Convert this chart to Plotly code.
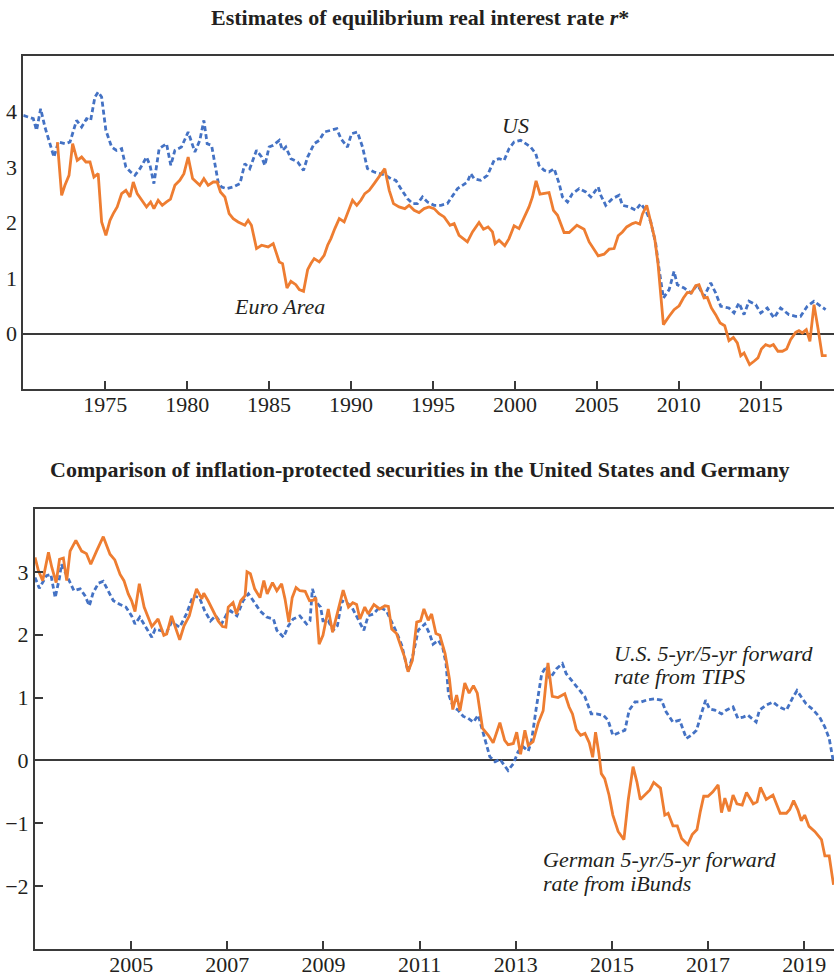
import plotly.graph_objects as go

# ---------------- Top chart: estimates of r* ----------------
us_rstar_year = [1970.0, 1970.61, 1970.81, 1971.06, 1971.32, 1971.63, 1971.87, 1972.14, 1972.54, 1972.85,
                 1973.25, 1973.56, 1973.86, 1974.11, 1974.37, 1974.57, 1974.78, 1975.04, 1975.39, 1975.69,
                 1976.0, 1976.26, 1976.55, 1976.81, 1977.12, 1977.52, 1977.73, 1977.97, 1978.13, 1978.29,
                 1978.74, 1979.0, 1979.25, 1979.65, 1980.06, 1980.27, 1980.47, 1980.77, 1981.02, 1981.22,
                 1981.49, 1981.69, 1981.89, 1982.10, 1982.40, 1982.81, 1983.22, 1983.52, 1983.82, 1984.23,
                 1984.54, 1984.74, 1985.0, 1985.25, 1985.62, 1985.82, 1986.02, 1986.33, 1986.74, 1987.10,
                 1987.35, 1987.75, 1988.06, 1988.36, 1988.77, 1989.13, 1989.38, 1989.78, 1990.03, 1990.39,
                 1990.70, 1991.0, 1991.41, 1991.82, 1992.12, 1992.43, 1992.73, 1993.04, 1993.44, 1993.75,
                 1994.05, 1994.36, 1994.66, 1995.07, 1995.48, 1995.88, 1996.19, 1996.49, 1996.80, 1997.10,
                 1997.30, 1997.51, 1997.91, 1998.32, 1998.73, 1999.03, 1999.34, 1999.64, 1999.95, 2000.35,
                 2000.66, 2000.96, 2001.27, 2001.47, 2001.78, 2002.08, 2002.39, 2002.70, 2002.90, 2003.21,
                 2003.51, 2003.92, 2004.32, 2004.63, 2005.08, 2005.24, 2005.54, 2005.95, 2006.36, 2006.56,
                 2006.97, 2007.37, 2007.68, 2007.98, 2008.29, 2008.59, 2008.80, 2009.06, 2009.41, 2009.71,
                 2009.91, 2010.32, 2010.73, 2011.13, 2011.54, 2011.95, 2012.25, 2012.56, 2013.06, 2013.37,
                 2013.67, 2013.98, 2014.28, 2014.69, 2015.0, 2015.40, 2015.81, 2016.21, 2016.72, 2017.13,
                 2017.43, 2017.84, 2018.25, 2018.55, 2018.96]
us_rstar = [3.93, 3.87, 3.66, 4.05, 3.72, 3.42, 3.18, 3.45, 3.42, 3.45,
            3.84, 3.72, 3.87, 3.84, 4.26, 4.35, 4.26, 3.66, 3.36, 3.30,
            3.33, 3.00, 2.91, 2.85, 2.97, 3.18, 3.03, 2.70, 3.06, 3.33,
            3.42, 3.03, 3.30, 3.36, 3.63, 3.45, 3.27, 3.48, 3.84, 3.42,
            3.39, 3.06, 2.73, 2.64, 2.61, 2.64, 2.70, 3.06, 2.97, 3.30,
            3.18, 3.03, 3.36, 3.39, 3.48, 3.30, 3.36, 3.15, 3.09, 2.94,
            3.18, 3.42, 3.48, 3.63, 3.66, 3.69, 3.51, 3.36, 3.60, 3.63,
            3.36, 2.97, 2.91, 2.88, 2.85, 2.79, 2.76, 2.61, 2.43, 2.34,
            2.34, 2.46, 2.37, 2.31, 2.31, 2.34, 2.49, 2.61, 2.67, 2.73,
            2.88, 2.79, 2.76, 2.85, 3.12, 3.15, 3.12, 3.33, 3.45, 3.48,
            3.42, 3.36, 3.24, 3.03, 2.94, 2.91, 2.97, 2.70, 2.46, 2.37,
            2.52, 2.61, 2.55, 2.46, 2.64, 2.49, 2.31, 2.43, 2.49, 2.31,
            2.28, 2.22, 2.34, 2.22, 2.01, 1.62, 1.15, 0.64, 0.79, 1.12,
            0.88, 0.82, 0.73, 0.88, 0.67, 0.91, 0.73, 0.49, 0.46, 0.37,
            0.55, 0.34, 0.58, 0.52, 0.37, 0.46, 0.28, 0.46, 0.34, 0.31,
            0.31, 0.49, 0.58, 0.52, 0.43]

euro_rstar_year = [1972.08, 1972.34, 1972.54, 1972.79, 1973.01, 1973.29, 1973.56, 1973.82, 1974.07, 1974.31,
                   1974.57, 1974.78, 1975.04, 1975.29, 1975.49, 1975.73, 1976.0, 1976.26, 1976.51, 1976.71,
                   1976.95, 1977.28, 1977.52, 1977.77, 1977.97, 1978.23, 1978.48, 1978.74, 1978.98, 1979.25,
                   1979.55, 1979.80, 1980.06, 1980.33, 1980.57, 1980.77, 1981.02, 1981.28, 1981.59, 1981.83,
                   1982.03, 1982.30, 1982.56, 1982.81, 1983.11, 1983.52, 1983.72, 1983.92, 1984.23, 1984.54,
                   1984.94, 1985.25, 1985.62, 1985.82, 1986.09, 1986.33, 1986.63, 1986.84, 1987.10, 1987.35,
                   1987.55, 1987.75, 1988.06, 1988.36, 1988.57, 1988.77, 1989.01, 1989.28, 1989.58, 1989.83,
                   1990.09, 1990.35, 1990.60, 1990.84, 1991.11, 1991.41, 1991.72, 1992.06, 1992.33, 1992.59,
                   1992.93, 1993.28, 1993.54, 1993.85, 1994.15, 1994.46, 1994.76, 1995.07, 1995.37, 1995.68,
                   1996.04, 1996.29, 1996.59, 1996.90, 1997.10, 1997.41, 1997.81, 1998.08, 1998.36, 1998.63,
                   1998.79, 1999.03, 1999.38, 1999.64, 1999.95, 2000.25, 2000.56, 2000.86, 2001.07, 2001.29,
                   2001.53, 2002.08, 2002.35, 2002.60, 2003.0, 2003.31, 2003.78, 2004.22, 2004.53, 2004.83,
                   2005.08, 2005.44, 2005.75, 2006.05, 2006.30, 2006.56, 2006.82, 2007.17, 2007.37, 2007.62,
                   2007.78, 2008.04, 2008.29, 2008.53, 2008.73, 2008.90, 2009.06, 2009.41, 2009.71, 2010.02,
                   2010.28, 2010.52, 2010.77, 2011.03, 2011.23, 2011.54, 2011.74, 2011.99, 2012.25, 2012.52,
                   2012.80, 2013.06, 2013.33, 2013.57, 2013.78, 2013.98, 2014.32, 2014.59, 2014.83, 2015.04,
                   2015.30, 2015.56, 2015.77, 2016.05, 2016.32, 2016.58, 2016.82, 2017.13, 2017.33, 2017.54,
                   2017.78, 2018.0, 2018.25, 2018.49, 2018.75, 2019.02]
euro_rstar = [3.45, 2.49, 2.67, 2.85, 3.42, 3.12, 3.18, 3.09, 3.09, 2.82,
              2.88, 2.01, 1.77, 2.04, 2.16, 2.28, 2.52, 2.58, 2.46, 2.73,
              2.52, 2.37, 2.28, 2.37, 2.25, 2.40, 2.31, 2.37, 2.42, 2.67,
              2.76, 2.88, 3.18, 2.79, 2.73, 2.67, 2.79, 2.67, 2.73, 2.73,
              2.55, 2.46, 2.16, 2.07, 2.01, 1.95, 2.04, 1.95, 1.53, 1.59,
              1.56, 1.62, 1.29, 1.26, 0.82, 0.94, 0.88, 0.79, 0.76, 1.15,
              1.26, 1.35, 1.29, 1.41, 1.59, 1.71, 1.89, 2.07, 2.01, 2.22,
              2.40, 2.31, 2.40, 2.52, 2.58, 2.70, 2.82, 2.97, 2.58, 2.34,
              2.28, 2.25, 2.31, 2.22, 2.18, 2.25, 2.28, 2.25, 2.16, 2.10,
              1.95, 1.98, 1.77, 1.70, 1.65, 1.83, 2.00, 1.88, 1.92, 1.83,
              1.62, 1.68, 1.58, 1.71, 1.94, 1.89, 2.10, 2.28, 2.46, 2.75,
              2.51, 2.54, 2.22, 2.13, 1.82, 1.82, 1.95, 1.88, 1.65, 1.50,
              1.40, 1.43, 1.52, 1.53, 1.76, 1.83, 1.92, 1.98, 2.00, 1.97,
              2.15, 2.31, 1.98, 1.71, 1.26, 0.73, 0.16, 0.31, 0.43, 0.50,
              0.64, 0.74, 0.73, 0.86, 0.88, 0.64, 0.65, 0.46, 0.34, 0.19,
              0.14, -0.13, -0.07, -0.17, -0.40, -0.35, -0.56, -0.50, -0.44, -0.28,
              -0.20, -0.23, -0.20, -0.32, -0.32, -0.28, -0.11, 0.02, 0.05, 0.01,
              0.07, -0.14, 0.52, 0.10, -0.40, -0.40]

top_xticks = [1975, 1980, 1985, 1990, 1995, 2000, 2005, 2010, 2015]
top_yticks = [0, 1, 2, 3, 4]

# ---------------- Bottom chart: 5y5y forward rates ----------------
german_year = [2003.00, 2003.07, 2003.16, 2003.28, 2003.35, 2003.44, 2003.51, 2003.59, 2003.66, 2003.73,
               2003.85, 2003.97, 2004.07, 2004.16, 2004.28, 2004.42, 2004.56, 2004.66, 2004.77, 2004.85,
               2004.94, 2005.01, 2005.08, 2005.17, 2005.27, 2005.36, 2005.43, 2005.56, 2005.68, 2005.74,
               2005.84, 2005.91, 2006.01, 2006.10, 2006.21, 2006.29, 2006.36, 2006.47, 2006.51, 2006.60,
               2006.71, 2006.81, 2006.90, 2006.97, 2007.02, 2007.12, 2007.19, 2007.28, 2007.37, 2007.41,
               2007.48, 2007.57, 2007.68, 2007.76, 2007.83, 2007.94, 2008.03, 2008.13, 2008.20, 2008.28,
               2008.35, 2008.43, 2008.51, 2008.62, 2008.71, 2008.79, 2008.84, 2008.91, 2008.99, 2009.10,
               2009.19, 2009.29, 2009.41, 2009.52, 2009.61, 2009.69, 2009.76, 2009.86, 2009.93, 2010.05,
               2010.17, 2010.28, 2010.35, 2010.42, 2010.52, 2010.63, 2010.69, 2010.76, 2010.85, 2010.94,
               2011.02, 2011.09, 2011.18, 2011.25, 2011.34, 2011.42, 2011.53, 2011.62, 2011.69, 2011.77,
               2011.84, 2011.94, 2012.03, 2012.12, 2012.20, 2012.31, 2012.43, 2012.53, 2012.67, 2012.77,
               2012.84, 2012.95, 2013.02, 2013.10, 2013.19, 2013.26, 2013.36, 2013.47, 2013.57, 2013.67,
               2013.76, 2013.88, 2014.02, 2014.11, 2014.18, 2014.26, 2014.35, 2014.44, 2014.53, 2014.60,
               2014.66, 2014.73, 2014.78, 2014.85, 2014.94, 2015.02, 2015.13, 2015.25, 2015.34, 2015.44,
               2015.52, 2015.59, 2015.70, 2015.79, 2015.87, 2016.01, 2016.10, 2016.17, 2016.27, 2016.36,
               2016.45, 2016.58, 2016.67, 2016.77, 2016.84, 2016.91, 2017.00, 2017.10, 2017.21, 2017.28,
               2017.35, 2017.44, 2017.52, 2017.60, 2017.71, 2017.80, 2017.94, 2018.02, 2018.09, 2018.21,
               2018.35, 2018.50, 2018.63, 2018.70, 2018.78, 2018.87, 2018.94, 2019.01, 2019.10, 2019.22,
               2019.36, 2019.43, 2019.52, 2019.61]
german_fwd = [3.23, 3.02, 2.86, 3.31, 3.07, 2.83, 3.20, 3.22, 2.86, 3.33,
              3.50, 3.33, 3.29, 3.12, 3.33, 3.56, 3.28, 3.19, 2.96, 2.86,
              2.65, 2.54, 2.37, 2.81, 2.44, 2.28, 2.13, 2.25, 1.99, 2.01,
              2.30, 2.14, 1.92, 2.14, 2.30, 2.54, 2.73, 2.57, 2.66, 2.54,
              2.38, 2.22, 2.13, 2.12, 2.44, 2.51, 2.33, 2.54, 2.62, 3.00,
              2.97, 2.73, 2.59, 2.86, 2.65, 2.83, 2.70, 2.81, 2.57, 2.20,
              2.59, 2.75, 2.70, 2.69, 2.54, 2.55, 2.59, 1.85, 1.99, 2.41,
              2.04, 2.33, 2.71, 2.44, 2.51, 2.48, 2.25, 2.44, 2.33, 2.48,
              2.41, 2.46, 2.45, 2.09, 2.02, 1.77, 1.64, 1.41, 1.59, 2.20,
              2.22, 2.41, 2.23, 2.33, 2.02, 1.99, 1.70, 1.30, 0.81, 1.04,
              0.79, 1.23, 1.07, 1.19, 1.07, 0.51, 0.40, 0.28, 0.60, 0.32,
              0.25, 0.27, 0.45, 0.10, 0.48, 0.24, 0.30, 0.60, 0.79, 1.55,
              1.02, 1.00, 1.06, 0.85, 0.74, 0.49, 0.40, 0.43, 0.28, 0.05,
              0.45, 0.11, -0.21, -0.29, -0.55, -0.87, -1.13, -1.26, -0.63, -0.10,
              -0.34, -0.62, -0.53, -0.47, -0.35, -0.44, -0.87, -0.84, -1.04, -1.04,
              -1.24, -1.34, -1.18, -1.10, -0.81, -0.57, -0.57, -0.50, -0.39, -0.83,
              -0.60, -0.81, -0.55, -0.69, -0.71, -0.51, -0.69, -0.66, -0.43, -0.62,
              -0.55, -0.84, -0.84, -0.78, -0.64, -0.79, -0.96, -0.87, -1.05, -1.13,
              -1.26, -1.52, -1.52, -1.98]

tips_year = [2003.00, 2003.09, 2003.24, 2003.33, 2003.42, 2003.51, 2003.55, 2003.66, 2003.81, 2003.94,
             2004.04, 2004.13, 2004.21, 2004.32, 2004.42, 2004.52, 2004.63, 2004.77, 2004.89, 2005.01,
             2005.08, 2005.18, 2005.32, 2005.43, 2005.50, 2005.60, 2005.74, 2005.84, 2006.01, 2006.15,
             2006.29, 2006.42, 2006.53, 2006.65, 2006.76, 2006.88, 2006.99, 2007.07, 2007.20, 2007.33,
             2007.44, 2007.54, 2007.68, 2007.82, 2007.96, 2008.03, 2008.17, 2008.27, 2008.37, 2008.51,
             2008.65, 2008.72, 2008.77, 2008.86, 2008.94, 2008.99, 2009.10, 2009.20, 2009.29, 2009.38,
             2009.48, 2009.59, 2009.72, 2009.84, 2009.93, 2010.04, 2010.17, 2010.31, 2010.42, 2010.52,
             2010.63, 2010.76, 2010.87, 2010.97, 2011.11, 2011.21, 2011.28, 2011.39, 2011.48, 2011.55,
             2011.60, 2011.70, 2011.80, 2011.91, 2012.01, 2012.12, 2012.22, 2012.32, 2012.46, 2012.57,
             2012.67, 2012.84, 2012.95, 2013.05, 2013.15, 2013.26, 2013.33, 2013.43, 2013.54, 2013.64,
             2013.71, 2013.85, 2013.97, 2014.05, 2014.19, 2014.32, 2014.44, 2014.57, 2014.68, 2014.82,
             2014.92, 2015.02, 2015.16, 2015.27, 2015.36, 2015.48, 2015.61, 2015.72, 2015.89, 2016.03,
             2016.13, 2016.27, 2016.41, 2016.55, 2016.65, 2016.76, 2016.86, 2016.95, 2017.03, 2017.14,
             2017.28, 2017.38, 2017.52, 2017.62, 2017.73, 2017.83, 2018.00, 2018.07, 2018.21, 2018.35,
             2018.48, 2018.63, 2018.77, 2018.85, 2018.94, 2019.04, 2019.18, 2019.32, 2019.43, 2019.52,
             2019.60]
tips_fwd = [2.91, 2.74, 2.94, 2.96, 2.59, 2.91, 3.12, 2.94, 2.70, 2.73,
            2.62, 2.46, 2.67, 2.82, 2.85, 2.70, 2.54, 2.48, 2.44, 2.30,
            2.17, 2.28, 2.09, 1.96, 2.09, 2.07, 2.04, 2.20, 2.12, 2.33,
            2.62, 2.59, 2.38, 2.22, 2.30, 2.17, 2.33, 2.38, 2.30, 2.54,
            2.65, 2.54, 2.38, 2.28, 2.25, 2.07, 1.96, 2.14, 2.25, 2.30,
            2.17, 2.22, 2.73, 2.51, 2.44, 2.22, 2.22, 2.07, 2.14, 2.54,
            2.51, 2.44, 2.25, 2.07, 2.30, 2.33, 2.44, 2.38, 2.20, 2.04,
            1.83, 1.41, 1.70, 2.07, 2.17, 2.01, 1.85, 1.91, 1.80, 1.54,
            1.06, 0.85, 0.80, 0.70, 0.67, 0.61, 0.72, 0.43, 0.06, -0.02,
            0.02, -0.16, -0.05, 0.14, 0.22, 0.15, 0.32, 0.85, 1.38, 1.50,
            1.30, 1.46, 1.54, 1.38, 1.25, 1.14, 1.01, 0.74, 0.74, 0.72,
            0.64, 0.40, 0.45, 0.48, 0.80, 0.93, 0.93, 0.96, 0.98, 0.96,
            0.77, 0.61, 0.64, 0.35, 0.40, 0.48, 0.74, 0.96, 0.82, 0.80,
            0.74, 0.80, 0.85, 0.67, 0.69, 0.72, 0.61, 0.80, 0.88, 0.93,
            0.85, 0.80, 1.01, 1.11, 1.01, 0.90, 0.81, 0.69, 0.53, 0.35,
            0.01]

bottom_xticks = [2005, 2007, 2009, 2011, 2013, 2015, 2017, 2019]
bottom_yticks = [-2, -1, 0, 1, 2, 3]

# ---------------- Styling ----------------
W, H = 834, 977
FONT = "Liberation Serif, Times New Roman, serif"
TXT = "#231f20"
AX = "#3a3a3a"
ORANGE = "#EE7D31"
BLUE = "#4472C4"

fig = go.Figure()
fig.add_trace(go.Scatter(x=us_rstar_year, y=us_rstar, mode="lines", xaxis="x", yaxis="y",
                         line=dict(color=BLUE, width=2.8, dash="5px,3px"), hoverinfo="skip"))
fig.add_trace(go.Scatter(x=euro_rstar_year, y=euro_rstar, mode="lines", xaxis="x", yaxis="y",
                         line=dict(color=ORANGE, width=2.8), hoverinfo="skip"))
fig.add_trace(go.Scatter(x=tips_year, y=tips_fwd, mode="lines", xaxis="x2", yaxis="y2",
                         line=dict(color=BLUE, width=2.8, dash="5px,3px"), hoverinfo="skip"))
fig.add_trace(go.Scatter(x=german_year, y=german_fwd, mode="lines", xaxis="x2", yaxis="y2",
                         line=dict(color=ORANGE, width=2.8), hoverinfo="skip"))

tickfont = dict(family=FONT, size=22, color=TXT)
xcommon = dict(showgrid=False, zeroline=False, showline=True, linecolor=AX, linewidth=2,
               mirror=True, ticks="inside", ticklen=8, tickwidth=1.5, tickcolor=AX,
               tickfont=tickfont, automargin=False, ticklabelstandoff=-5, fixedrange=True)
ycommon = dict(showgrid=False, showline=True, linecolor=AX, linewidth=2, mirror=False,
               zeroline=True, zerolinecolor=AX, zerolinewidth=1.6,
               tickfont=tickfont, automargin=False, ticklabelstandoff=0, fixedrange=True)

fig.update_layout(
    width=W, height=H, template="none",
    margin=dict(l=0, r=0, t=0, b=0),
    paper_bgcolor="white", plot_bgcolor="white", showlegend=False,
    font=dict(family=FONT, size=22, color=TXT),
    xaxis=dict(domain=[23.3 / W, 1], range=[1970, 2019.47], tickvals=top_xticks,
               anchor="y", **xcommon),
    yaxis=dict(domain=[1 - 389 / H, 1 - 56 / H], range=[-1, 5], tickvals=top_yticks,
               ticks="", anchor="x", **ycommon),
    xaxis2=dict(domain=[35 / W, 1], range=[2003, 2019.62], tickvals=bottom_xticks,
                anchor="y2", **xcommon),
    yaxis2=dict(domain=[1 - 949 / H, 1 - 509 / H], range=[-3, 4], tickvals=bottom_yticks,
                ticks="inside", ticklen=8, tickwidth=1.5, tickcolor=AX, anchor="x2", **ycommon),
)

ann_font = dict(family=FONT, size=22, color=TXT)
fig.add_annotation(text="<b>Estimates of equilibrium real interest rate <i>r</i>*</b>",
                   xref="paper", yref="paper", x=419.5 / W, y=1 - 17 / H,
                   xanchor="center", yanchor="middle", showarrow=False, font=ann_font)
fig.add_annotation(text="<b>Comparison of inflation-protected securities in the United States and Germany</b>",
                   xref="paper", yref="paper", x=420 / W, y=1 - 469.4 / H,
                   xanchor="center", yanchor="middle", showarrow=False, font=ann_font)
fig.add_annotation(text="<i>US</i>", xref="x", yref="y", x=2000.03, y=3.74,
                   xanchor="center", yanchor="middle", showarrow=False, font=ann_font)
fig.add_annotation(text="<i>Euro Area</i>", xref="x", yref="y", x=1985.64, y=0.49,
                   xanchor="center", yanchor="middle", showarrow=False, font=ann_font)
fig.add_annotation(text="<i>U.S. 5-yr/5-yr forward</i>", xref="x2", yref="y2", x=2015.0, y=1.705,
                   xanchor="left", yanchor="middle", showarrow=False, font=ann_font)
fig.add_annotation(text="<i>rate from TIPS</i>", xref="x2", yref="y2", x=2015.0, y=1.336,
                   xanchor="left", yanchor="middle", showarrow=False, font=ann_font)
fig.add_annotation(text="<i>German 5-yr/5-yr forward</i>", xref="x2", yref="y2", x=2013.52, y=-1.58,
                   xanchor="left", yanchor="middle", showarrow=False, font=ann_font)
fig.add_annotation(text="<i>rate from iBunds</i>", xref="x2", yref="y2", x=2013.52, y=-1.96,
                   xanchor="left", yanchor="middle", showarrow=False, font=ann_font)

fig.write_html("out.html", config={"displayModeBar": False},
               post_script="document.body.style.margin='0';document.body.style.overflow='hidden';")
